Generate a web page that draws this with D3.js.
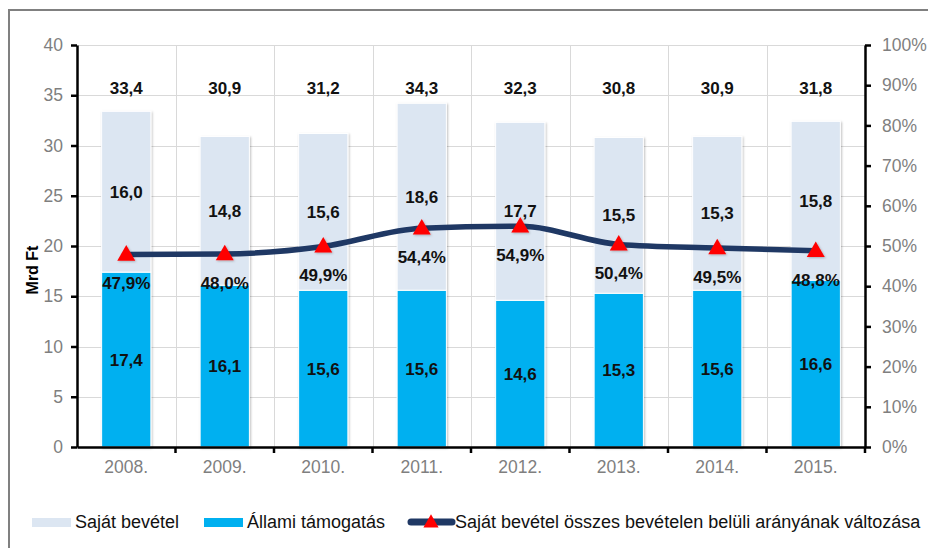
<!DOCTYPE html>
<html>
<head>
  <meta charset="UTF-8">
  <style>
    body { margin: 0; background: white; }
    svg { display: block; }
    .tick-label { font-family: "Liberation Sans", Arial, sans-serif; font-size: 17.5px; fill: #7f7f7f; }
    .data-label { font-family: "Liberation Sans", Arial, sans-serif; font-size: 17px; font-weight: bold; fill: #111; }
    .legend-text { font-family: "Liberation Sans Narrow", "Liberation Sans", sans-serif; font-size: 18px; fill: #111; }
  </style>
</head>
<body>
<svg id="chart" width="928" height="548"></svg>
<script src="https://d3js.org/d3.v7.min.js"></script>
<script>

// data
let years = ["2008.", "2009.", "2010.", "2011.", "2012.", "2013.", "2014.", "2015."];
let allami = [17.4, 16.1, 15.6, 15.6, 14.6, 15.3, 15.6, 16.6];
let sajat = [16.0, 14.8, 15.6, 18.6, 17.7, 15.5, 15.3, 15.8];
let totals = ["33,4", "30,9", "31,2", "34,3", "32,3", "30,8", "30,9", "31,8"];
let ratio = [47.9, 48.0, 49.9, 54.4, 54.9, 50.4, 49.5, 48.8];
let leftTicks = [0, 5, 10, 15, 20, 25, 30, 35, 40];
let rightTicks = [0, 10, 20, 30, 40, 50, 60, 70, 80, 90, 100];

let fmt = v => v.toFixed(1).replace(".", ",");

let svg = d3.select("#chart");
let plot = { left: 77, right: 865, top: 45, bottom: 447 };

let defs = svg.append("defs");
defs.append("filter").attr("id", "shadow")
    .attr("x", "-20%").attr("y", "-20%").attr("width", "140%").attr("height", "140%")
    .append("feDropShadow")
    .attr("dx", 1).attr("dy", 1).attr("stdDeviation", 1.2)
    .attr("flood-color", "#000").attr("flood-opacity", 0.25);

// frame
svg.append("path")
    .attr("d", "M9,548 L9,10 L928,10")
    .attr("fill", "none").attr("stroke", "#808080").attr("stroke-width", 2);

let x = d3.scaleBand().domain(years).range([plot.left, plot.right])
    .paddingInner(0.5).paddingOuter(0.25);
let y = d3.scaleLinear().domain([0, 40]).range([plot.bottom, plot.top]);
let y2 = d3.scaleLinear().domain([0, 100]).range([plot.bottom, plot.top]);

// gridlines
let grid = svg.append("g").attr("stroke", "#d9d9d9").attr("stroke-width", 1);
grid.selectAll("line.h").data(leftTicks.slice(1)).enter().append("line")
    .attr("x1", plot.left).attr("x2", plot.right)
    .attr("y1", d => Math.round(y(d)) + 0.5).attr("y2", d => Math.round(y(d)) + 0.5);
let bounds = d3.range(1, years.length).map(i => plot.left + i * x.step());
grid.selectAll("line.v").data(bounds).enter().append("line")
    .attr("x1", d => Math.round(d) + 0.5).attr("x2", d => Math.round(d) + 0.5)
    .attr("y1", plot.top).attr("y2", plot.bottom);

// bars
let bars = svg.append("g").attr("filter", "url(#shadow)");
bars.selectAll("rect.allami").data(years).enter().append("rect")
    .attr("x", d => x(d)).attr("width", x.bandwidth())
    .attr("y", (d, i) => y(allami[i]))
    .attr("height", (d, i) => y(0) - y(allami[i]))
    .attr("fill", "#00b0f0").attr("stroke", "#fff").attr("stroke-width", 1);
bars.selectAll("rect.sajat").data(years).enter().append("rect")
    .attr("x", d => x(d)).attr("width", x.bandwidth())
    .attr("y", (d, i) => y(allami[i] + sajat[i]))
    .attr("height", (d, i) => y(allami[i]) - y(allami[i] + sajat[i]))
    .attr("fill", "#dce6f2").attr("stroke", "#fff").attr("stroke-width", 1);

// axes
let axL = svg.append("g").attr("transform", "translate(" + plot.left + ",0)")
    .call(d3.axisLeft(y).tickValues(leftTicks).tickSize(6).tickSizeOuter(0));
let axR = svg.append("g").attr("transform", "translate(" + plot.right + ",0)")
    .call(d3.axisRight(y2).tickValues(rightTicks).tickSize(6).tickSizeOuter(0).tickFormat(d => d + "%"));
let axB = svg.append("g").attr("transform", "translate(0," + plot.bottom + ")")
    .call(d3.axisBottom(x).tickSize(0).tickSizeOuter(0));
[axL, axR, axB].forEach(a => {
    a.select(".domain").attr("stroke", "#000").attr("stroke-width", 2.5);
    a.selectAll(".tick line").attr("stroke", "#000").attr("stroke-width", 2.5);
    a.selectAll("text").attr("class", "tick-label").attr("fill", null);
});
axL.selectAll("text").attr("x", -14);
axR.selectAll("text").attr("x", 17);
axB.selectAll("text").attr("y", 14);
axB.selectAll("line.bt").data(bounds.concat([plot.right])).enter().append("line")
    .attr("x1", d => d).attr("x2", d => d).attr("y1", 0).attr("y2", 6)
    .attr("stroke", "#000").attr("stroke-width", 2.5);

// y title
svg.append("text")
    .attr("transform", "translate(38,270) rotate(-90)")
    .attr("text-anchor", "middle")
    .attr("font-family", "Liberation Sans, Arial, sans-serif")
    .attr("font-size", 16).attr("font-weight", "bold")
    .text("Mrd Ft");

// ratio line
let cx = d => x(d) + x.bandwidth() / 2;
let line = d3.line().x((d, i) => cx(years[i])).y(d => y2(d)).curve(d3.curveMonotoneX);
svg.append("path").datum(ratio)
    .attr("d", line).attr("fill", "none")
    .attr("stroke", "#1f3864").attr("stroke-width", 5.5);
svg.append("g").attr("filter", "url(#shadow)")
    .selectAll("path").data(ratio).enter().append("path")
    .attr("d", d3.symbol().type(d3.symbolTriangle).size(140))
    .attr("transform", (d, i) => "translate(" + cx(years[i]) + "," + (y2(d) + 1) + ")")
    .attr("fill", "#ff0000");

// labels
let labels = svg.append("g").attr("class", "data-label").attr("text-anchor", "middle");
labels.selectAll("text.tot").data(totals).enter().append("text")
    .attr("x", (d, i) => cx(years[i])).attr("y", 94).text(d => d);
labels.selectAll("text.s").data(sajat).enter().append("text")
    .attr("x", (d, i) => cx(years[i]))
    .attr("y", (d, i) => y(allami[i] + d / 2) + 6).text(d => fmt(d));
labels.selectAll("text.a").data(allami).enter().append("text")
    .attr("x", (d, i) => cx(years[i]))
    .attr("y", d => y(d / 2) + 6).text(d => fmt(d));
labels.selectAll("text.r").data(ratio).enter().append("text")
    .attr("x", (d, i) => cx(years[i]))
    .attr("y", d => y2(d) + 35).text(d => fmt(d) + "%");

// legend
let lg = svg.append("g").attr("transform", "translate(0,522)");
lg.append("rect").attr("x", 32).attr("y", -4).attr("width", 39).attr("height", 9).attr("fill", "#dce6f2");
lg.append("text").attr("class", "legend-text").attr("x", 75).attr("y", 6).text("Saját bevétel");
lg.append("rect").attr("x", 204).attr("y", -4).attr("width", 39).attr("height", 9).attr("fill", "#00b0f0");
lg.append("text").attr("class", "legend-text").attr("x", 247).attr("y", 6).text("Állami támogatás");
lg.append("line").attr("x1", 411).attr("x2", 452).attr("y1", 0).attr("y2", 0)
    .attr("stroke", "#1f3864").attr("stroke-width", 7).attr("stroke-linecap", "round");
lg.append("path").attr("d", d3.symbol().type(d3.symbolTriangle).size(100))
    .attr("transform", "translate(431,1)").attr("fill", "#ff0000");
lg.append("text").attr("class", "legend-text").attr("x", 455).attr("y", 6)
    .text("Saját bevétel összes bevételen belüli arányának változása");

</script>
</body>
</html>
